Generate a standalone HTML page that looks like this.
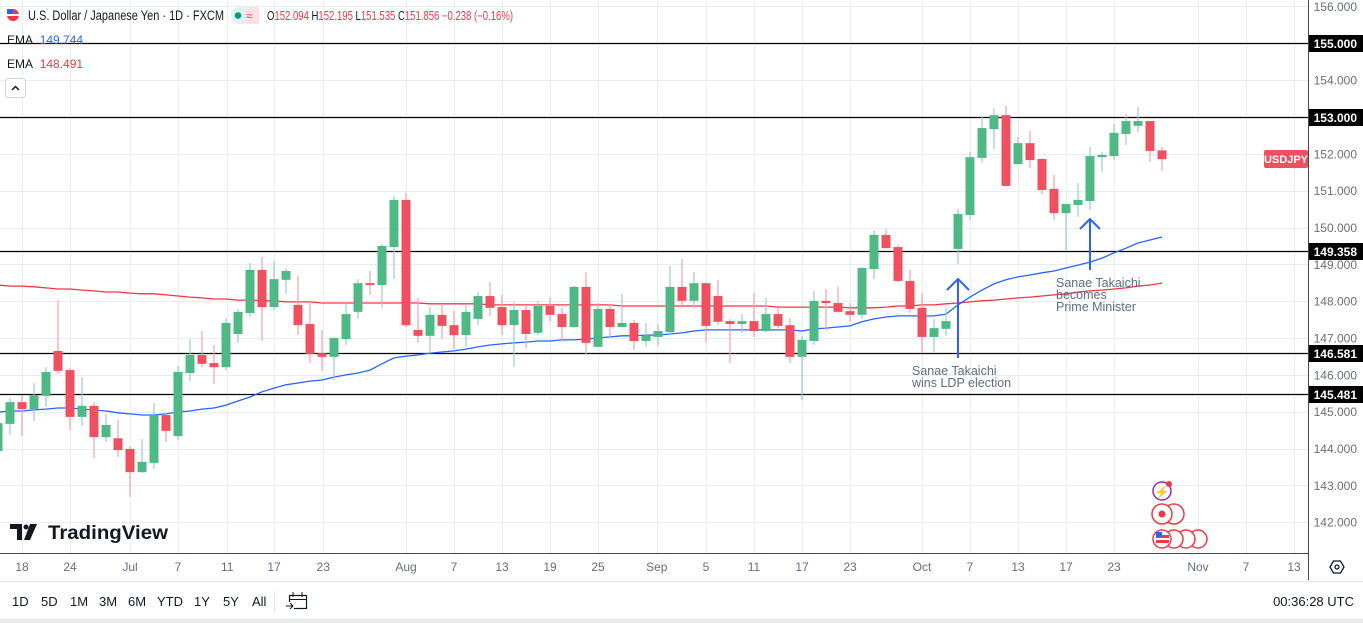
<!DOCTYPE html>
<html><head><meta charset="utf-8"><style>
html,body{margin:0;padding:0;background:#fff;width:1363px;height:623px;overflow:hidden}
svg{display:block;font-family:"Liberation Sans",sans-serif}
</style></head><body>
<svg id="chart" width="1363" height="623" viewBox="0 0 1363 623">
<g id="grid"></g>
<g id="levels"></g>
<g id="emas"></g>
<g id="candles"></g>
<g id="annot">
  <path d="M958 358 V279 M947 290 L958 279 L969 290" stroke="#2962ff" stroke-width="2" fill="none"/>
  <text x="912" y="375" font-size="12.5" fill="#5d6d80">Sanae Takaichi</text>
  <text x="912" y="387" font-size="12.5" fill="#5d6d80">wins LDP election</text>
  <path d="M1090 270 V219 M1080 229 L1090 219 L1100 229" stroke="#2962ff" stroke-width="2" fill="none"/>
  <text x="1056" y="287" font-size="12.5" fill="#5d6d80">Sanae Takaichi</text>
  <text x="1056" y="299" font-size="12.5" fill="#5d6d80">becomes</text>
  <text x="1056" y="311" font-size="12.5" fill="#5d6d80">Prime Minister</text>
</g>
<g id="events">
  <circle cx="1162" cy="491" r="9" fill="#fff" stroke="#9c27b0" stroke-width="1.5"/>
  <text x="1162" y="496" font-size="12" fill="#9c27b0" text-anchor="middle">⚡</text>
  <circle cx="1169" cy="484" r="3" fill="#f23645"/>
  <circle cx="1174" cy="514" r="10" fill="#fff" stroke="#f23645" stroke-width="1.5"/>
  <circle cx="1162" cy="514" r="10" fill="#fff" stroke="#f23645" stroke-width="1.5"/>
  <circle cx="1162" cy="514" r="3.5" fill="#f23645"/>
  <circle cx="1198" cy="539" r="9" fill="#fff" stroke="#f23645" stroke-width="1.5"/>
  <circle cx="1186" cy="539" r="9" fill="#fff" stroke="#f23645" stroke-width="1.5"/>
  <circle cx="1174" cy="539" r="9" fill="#fff" stroke="#f23645" stroke-width="1.5"/>
  <circle cx="1162" cy="539" r="9" fill="#fff" stroke="#f23645" stroke-width="1.5"/>
  <rect x="1156" y="535" width="13" height="3" fill="#f23645"/><rect x="1156" y="540" width="13" height="3" fill="#f23645"/><rect x="1156" y="532" width="6" height="5" fill="#2962ff"/>
</g>
<!-- right axis -->
<rect x="1308" y="0" width="55" height="580" fill="#fff"/>
<line x1="1308.5" y1="0" x2="1308.5" y2="580" stroke="#434651" stroke-width="1"/>
<g id="yaxis"></g>
<!-- x axis -->
<line x1="0" y1="553.5" x2="1308" y2="553.5" stroke="#434651" stroke-width="1"/>
<g id="xaxis"></g>
<g>
  <path d="M1330 567 l3.5 -6 h7 l3.5 6 l-3.5 6 h-7 z" fill="none" stroke="#131722" stroke-width="1.3"/>
  <circle cx="1337" cy="567" r="2" fill="none" stroke="#131722" stroke-width="1.3"/>
</g>
<rect x="1264" y="150" width="44" height="18" rx="2" fill="#ef5060"/>
<text x="1286" y="163" font-size="11" fill="#fff" text-anchor="middle" font-weight="bold">USDJPY</text>
<!-- header -->
<g>
  <circle cx="13" cy="15" r="6" fill="#f23645"/><rect x="7" y="9" width="6" height="6" fill="#2962ff"/><rect x="7" y="14" width="12" height="2" fill="#fff"/>
  <text x="28" y="20" font-size="13.5" fill="#131722" textLength="196" lengthAdjust="spacingAndGlyphs">U.S. Dollar / Japanese Yen · 1D · FXCM</text>
  <rect x="231" y="7" width="28" height="17" rx="8" fill="#e0f2ef"/><rect x="245" y="7" width="14" height="17" fill="#fde3e7"/>
  <circle cx="238" cy="15.5" r="3.3" fill="#089981"/><text x="246" y="20" font-size="12" fill="#f23645">≈</text>
  <text x="267" y="20" font-size="12.5" fill="#131722" textLength="246" lengthAdjust="spacingAndGlyphs">O<tspan fill="#f23645">152.094</tspan> H<tspan fill="#f23645">152.195</tspan> L<tspan fill="#f23645">151.535</tspan> C<tspan fill="#f23645">151.856</tspan> <tspan fill="#f23645">−0.238 (−0.16%)</tspan></text>
  <text x="7" y="44" font-size="12" fill="#131722">EMA <tspan fill="#2962ff" dx="4">149.744</tspan></text>
  <text x="7" y="68" font-size="12" fill="#131722">EMA <tspan fill="#f23645" dx="4">148.491</tspan></text>
  <g><rect x="5.5" y="78.5" width="20" height="19" rx="3" fill="#fff" stroke="#d1d4dc"/><path d="M12 90 l3.5 -3.5 l3.5 3.5" stroke="#131722" stroke-width="1.5" fill="none"/></g>
</g>
<g>
  <path d="M10 524 h12 v16 h-5 v-11 h-7z" fill="#131722"/><circle cx="26" cy="527" r="2.5" fill="#131722"/><path d="M30 524 h7 l-7 16 h-6z" fill="#131722"/>
  <text x="48" y="539" font-size="19" font-weight="bold" fill="#131722" textLength="120" lengthAdjust="spacingAndGlyphs">TradingView</text>
</g>
<!-- bottom bar -->
<line x1="0" y1="581.5" x2="1363" y2="581.5" stroke="#e0e3eb"/>
<rect x="0" y="619" width="1363" height="4" fill="#e9eaee"/>
<g id="ranges"></g>
<line x1="274.5" y1="591" x2="274.5" y2="612" stroke="#e0e3eb"/>
<g><rect x="289.5" y="595.5" width="17" height="13" fill="none" stroke="#131722" stroke-width="1.2"/><line x1="289" y1="599.5" x2="306" y2="599.5" stroke="#131722"/><line x1="293" y1="592" x2="293" y2="597" stroke="#131722"/><line x1="302" y1="592" x2="302" y2="597" stroke="#131722"/><rect x="286" y="602" width="8" height="8" fill="#fff"/><path d="M286 606 h7 m-3 -3 l3 3 l-3 3" stroke="#131722" fill="none"/></g>
<text x="1354" y="606" font-size="13" fill="#131722" text-anchor="end">00:36:28 UTC</text>
</svg>
<script>
const NS="http://www.w3.org/2000/svg";
const opens=[143.93,144.67,145.26,145.07,145.43,146.65,146.13,144.86,145.16,144.31,144.28,143.99,143.36,143.61,144.91,144.34,146.05,146.54,146.32,146.21,147.11,147.68,148.85,147.84,148.58,147.90,147.38,146.59,146.49,146.97,147.71,148.49,148.44,149.47,150.75,147.22,147.06,147.63,147.35,147.08,147.52,148.14,147.84,147.35,147.76,147.14,147.87,147.65,147.30,148.39,146.76,147.79,147.30,147.41,146.92,147.03,147.16,148.39,148.01,148.49,148.14,147.46,147.38,147.46,147.19,147.65,147.35,146.49,146.92,148.01,147.95,147.73,147.63,148.87,149.80,149.47,148.55,147.82,147.03,147.25,149.42,150.34,151.89,152.67,153.05,151.72,152.29,151.86,151.05,150.39,150.61,150.72,151.91,151.94,152.54,152.76,152.89,152.094];
const highs=[144.78,145.37,145.45,145.78,146.21,148.03,146.19,145.94,145.26,144.94,144.78,144.07,144.26,145.24,144.97,146.24,146.97,147.19,146.81,147.54,147.79,149.04,149.20,149.09,148.90,148.68,147.95,147.22,147.03,147.95,148.60,148.82,149.55,150.86,150.94,148.09,147.84,147.93,147.73,147.93,148.25,148.52,148.17,147.98,147.87,148.01,148.11,147.82,148.41,148.79,147.95,147.93,148.20,147.49,147.41,147.38,148.96,149.15,148.79,148.49,148.58,147.52,147.65,148.22,148.09,147.82,147.54,147.06,148.28,148.33,148.39,147.95,148.93,149.93,149.96,149.53,148.85,148.22,147.52,147.82,150.50,152.05,153.03,153.24,153.30,152.46,152.62,151.89,151.43,150.64,151.21,152.19,152.05,152.81,153.08,153.27,152.89,152.195];
const lows=[143.83,144.37,144.34,144.75,145.13,146.05,144.50,144.61,143.74,144.18,143.77,142.69,143.34,143.45,144.18,144.23,145.83,146.21,145.75,146.13,146.87,147.57,146.92,147.76,148.20,147.08,146.32,146.11,145.86,146.81,147.52,148.17,147.82,148.60,147.30,146.87,146.59,146.97,146.70,146.76,147.35,147.60,147.08,146.21,146.73,147.08,147.46,146.89,147.27,146.57,146.76,147.00,147.30,146.68,146.76,146.78,147.08,147.90,147.82,146.87,147.35,146.32,147.14,147.03,147.16,147.27,146.32,145.32,146.81,147.22,147.68,147.46,147.54,148.60,149.44,148.52,147.68,146.59,146.62,147.06,149.01,150.20,151.75,152.13,151.13,151.72,151.62,150.91,150.20,149.39,150.29,150.48,151.51,151.83,152.24,152.59,151.78,151.535];
const closes=[144.69,145.26,145.07,145.45,146.08,146.11,144.86,145.16,144.31,144.64,143.96,143.36,143.64,144.91,144.48,146.08,146.54,146.30,146.21,147.41,147.71,148.85,147.84,148.60,148.82,147.35,146.57,146.49,147.00,147.65,148.49,148.44,149.50,150.75,147.35,147.06,147.63,147.33,147.08,147.71,148.14,147.82,147.35,147.76,147.11,147.87,147.63,147.30,148.39,146.87,147.79,147.30,147.41,146.92,147.06,147.19,148.39,148.01,148.49,147.33,147.44,147.38,147.46,147.19,147.65,147.33,146.49,146.95,148.01,147.95,147.71,147.63,148.90,149.80,149.44,148.55,147.79,147.03,147.27,147.46,150.37,151.91,152.70,153.05,151.13,152.29,151.83,151.02,150.39,150.64,150.75,151.94,151.97,152.57,152.89,152.89,152.08,151.856];
const emaFast=[144.99,145.02,145.02,145.05,145.07,145.10,145.10,145.07,145.05,145.02,144.97,144.94,144.91,144.91,144.94,144.99,145.02,145.07,145.10,145.18,145.29,145.40,145.54,145.64,145.73,145.78,145.83,145.86,145.94,146.00,146.05,146.13,146.30,146.46,146.51,146.54,146.59,146.62,146.65,146.70,146.76,146.81,146.84,146.87,146.89,146.92,146.92,146.95,146.95,146.97,147.00,147.03,147.06,147.06,147.08,147.08,147.11,147.14,147.19,147.22,147.22,147.22,147.22,147.22,147.22,147.22,147.22,147.19,147.25,147.27,147.30,147.33,147.44,147.52,147.57,147.60,147.60,147.60,147.60,147.65,147.90,148.11,148.30,148.47,148.58,148.66,148.71,148.77,148.82,148.90,148.98,149.06,149.17,149.31,149.44,149.58,149.66,149.744];
const emaSlow=[148.44,148.41,148.41,148.39,148.36,148.33,148.33,148.30,148.28,148.25,148.25,148.22,148.20,148.20,148.17,148.14,148.11,148.09,148.06,148.06,148.03,148.03,148.01,148.01,147.98,147.98,147.98,147.95,147.95,147.95,147.95,147.95,147.95,147.95,147.95,147.95,147.93,147.93,147.93,147.93,147.93,147.90,147.90,147.90,147.90,147.90,147.90,147.90,147.90,147.90,147.90,147.90,147.87,147.87,147.87,147.87,147.87,147.87,147.87,147.87,147.87,147.87,147.87,147.87,147.87,147.84,147.84,147.84,147.84,147.84,147.84,147.82,147.82,147.82,147.84,147.87,147.87,147.90,147.90,147.93,147.95,147.98,148.01,148.03,148.06,148.09,148.11,148.14,148.17,148.20,148.25,148.28,148.30,148.33,148.36,148.41,148.44,148.491];
const priceTicks=[156,155,154,153,152,151,150,149,148,147,146,145,144,143,142];
const levelPrices=[155,153,149.358,146.581,145.481];
const dateTickIdx=[2,6,11,15,19.1,23,27.1,34,38,42,46,50,54.9,59,63,67,71,77,81,85,89,93,100,104,108];
const dateTickLabels=["18","24","Jul","7","11","17","23","Aug","7","13","19","25","Sep","5","11","17","23","Oct","7","13","17","23","Nov","7","13"];
const rangeLabels=["1D","5D","1M","3M","6M","YTD","1Y","5Y","All"];

const yS=p=>117+(153-p)*36.84;
const xS=i=>-2+12*i;
function mk(tag,attrs,parent){const e=document.createElementNS(NS,tag);for(const k in attrs)e.setAttribute(k,attrs[k]);parent.appendChild(e);return e;}

const grid=document.getElementById('grid');
priceTicks.forEach(p=>{const l=mk('line',{x1:0,x2:1308,y1:Math.round(yS(p))+0.5,y2:Math.round(yS(p))+0.5,stroke:'#e6edf3','stroke-width':1},grid);

});
dateTickIdx.forEach(i=>{const x=Math.round(xS(i))+0.5;const l=mk('line',{x1:x,x2:x,y1:0,y2:553,stroke:'#e6edf3','stroke-width':1},grid);

});

const yax=document.getElementById('yaxis');
priceTicks.forEach(p=>{const t=mk('text',{x:1357,y:yS(p)+4.5,'font-size':12,fill:'#6a6d78','text-anchor':'end'},yax);t.textContent=p.toFixed(3);

});

const lv=document.getElementById('levels');
levelPrices.forEach(p=>{const y=Math.round(yS(p))+0.5;
const l=mk('line',{x1:0,x2:1308,y1:y,y2:y,stroke:'#000','stroke-width':1.2},lv);


const r=mk('rect',{x:1309,y:y-8.5,width:54,height:17,fill:'#000'},yax);


const t=mk('text',{x:1357,y:y+4.5,'font-size':12,'font-weight':'bold',fill:'#fff','text-anchor':'end'},yax);t.textContent=p.toFixed(3);

});

const em=document.getElementById('emas');
function line(arr,color,name){const d=arr.map((v,i)=>(i?'L':'M')+xS(i).toFixed(1)+' '+yS(v).toFixed(1)).join(' ');
const p=mk('path',{d:d,fill:'none',stroke:color,'stroke-width':1.3},em);

}
line(emaSlow,'#f23645','ema-200-line');
line(emaFast,'#2962ff','ema-50-line');

const cg=document.getElementById('candles');
opens.forEach((o,i)=>{const c=closes[i],up=c>=o;const x=xS(i);
const g=mk('g',{},cg);


mk('line',{x1:x,x2:x,y1:yS(highs[i]),y2:yS(lows[i]),stroke:up?'#9ccbc8':'#f7a0aa','stroke-width':1.2},g);
const top=yS(Math.max(o,c)),bot=yS(Math.min(o,c));
mk('rect',{x:x-4.5,y:top,width:9,height:Math.max(1.5,bot-top),fill:up?'#4fb985':'#ef5060'},g);});

const xa=document.getElementById('xaxis');
dateTickIdx.forEach((i,k)=>{const t=mk('text',{x:xS(i),y:571,'font-size':12,fill:'#6a6d78','text-anchor':'middle'},xa);t.textContent=dateTickLabels[k];

});

const rg=document.getElementById('ranges');
let rx=12;
rangeLabels.forEach(r=>{const t=mk('text',{x:rx,y:606,'font-size':13,fill:'#131722'},rg);t.textContent=r;


rx+=r.length*8+13;});
</script>
</body></html>
